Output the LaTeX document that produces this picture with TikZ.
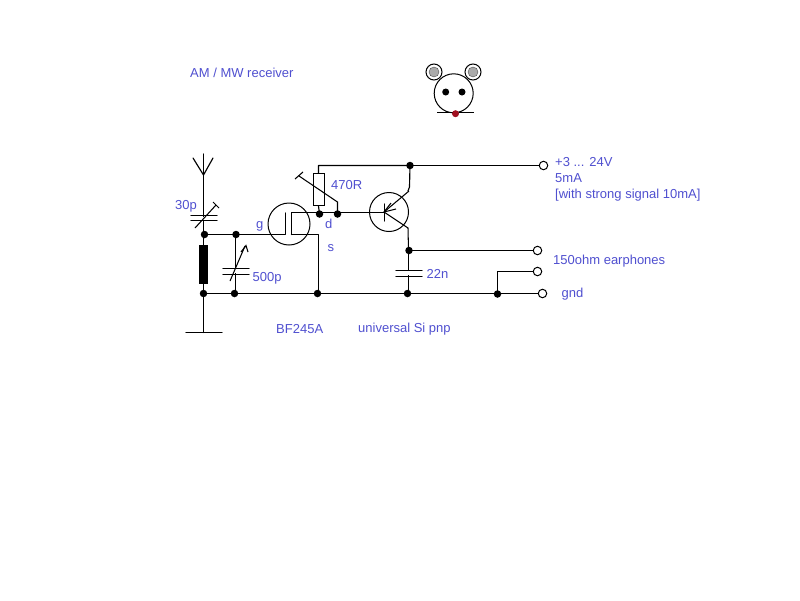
\documentclass[tikz,border=0pt]{standalone}
\usepackage{fontspec}
\setmainfont{Liberation Sans}
\definecolor{lbl}{RGB}{80,80,208}
\definecolor{nosered}{RGB}{160,16,32}
\definecolor{eargray}{RGB}{170,170,170}
\tikzset{
  wire/.style={draw=black,line width=1.15pt,line cap=round,line join=round},
  thin wire/.style={draw=black,line width=1.05pt},
  dot/.style={circle,fill=black,inner sep=0pt,minimum size=7.5pt},
  term/.style={circle,draw=black,fill=white,line width=1pt,inner sep=0pt,minimum size=8.5pt},
  txt/.style={anchor=base west,inner sep=0pt,text=lbl,font=\fontsize{13}{15}\selectfont},
  ring/.style={circle,draw=black,line width=1pt,fill=none,inner sep=0pt},
}
\begin{document}
\begin{tikzpicture}[x=1pt,y=-1pt]
\useasboundingbox (0,0) rectangle (800,600);
\fill[white] (0,0) rectangle (800,600);

% junctions
\node[dot] (jA) at (204.5,234.5) {};
\node[dot] (jB) at (236,234.5) {};
\node[dot] (jC) at (203.5,293.5) {};
\node[dot] (jD) at (234.5,293.5) {};
\node[dot] (jE) at (317.5,293.5) {};
\node[dot] (jF) at (407.5,293.5) {};
\node[dot] (jG) at (497.5,294) {};
\node[dot] (jH) at (410,165.5) {};
\node[dot] (jI) at (409,250.5) {};
\node[dot] (jJ) at (319.5,214) {};
\node[dot] (jK) at (337.5,214) {};

% terminals
\node[term] (tV) at (543.5,165.5) {};
\node[term] (tE) at (537.5,250.5) {};
\node[term] (tF) at (537.5,271.5) {};
\node[term] (tG) at (542.5,293.5) {};

% helper points
\coordinate (antTop) at (203.5,154);
\coordinate (antFork) at (203.5,175);
\coordinate (gnd) at (203.5,332.5);
\coordinate (gateIn) at (285.5,234.5);
\coordinate (gateTop) at (285.5,213);
\coordinate (chanBot) at (291.5,234.5);
\coordinate (chanTop) at (291.5,212.5);
\coordinate (srcCorner) at (318.5,234.5);
\coordinate (base) at (384,212.5);
\coordinate (eOut) at (408,191);
\coordinate (sp) at (497.5,271.5);

% wires
\draw[wire] (antTop) -- (antFork) -- (203.5,234.5) -- (jA.center);
\draw[wire] (antFork) -- (193,158);
\draw[wire] (antFork) -- (213,158);
\draw[wire] (203.5,234.5) -- (jC.center) -- (gnd);
\draw[wire] (186,332.5) -- (222,332.5);
\draw[wire] (jA.center) -- (jB.center) -- (gateIn) -- (gateTop);
\draw[wire] (235.5,234.5) -- (235.5,293.5);
\draw[wire] (jC.center) -- (tG);
\draw[wire] (chanBot) -- (chanTop) -- (base);
\draw[wire] (chanBot) -- (srcCorner) -- (318.5,293.5);
\draw[wire] (497.5,293.5) -- (sp) -- (tF);
\draw[wire] (jH.center) -- (tV);
\draw[wire] (jI.center) -- (tE);
\draw[wire] (408.5,293.5) -- (408.5,250.5);
\draw[wire] (318.5,173) -- (318.5,165.5) -- (jH.center) -- (409.5,187) -- (eOut);

% inductor
\node[fill=black,inner sep=0pt,minimum width=9pt,minimum height=39pt] (L1) at (203.5,264.5) {};

% 30p capacitor
\fill[white] (192,216.5) rectangle (216,219.5);
\draw[wire] (191,215.5) -- (217,215.5);
\draw[wire] (191,220.5) -- (217,220.5);
\draw[thin wire] (195,228) -- (216,205);
\draw[thin wire] (213,202) -- (219,208);

% 500p capacitor
\fill[white] (224,269) rectangle (248,273);
\draw[wire] (223,268.5) -- (249,268.5);
\draw[wire] (223,274.5) -- (249,274.5);
\draw[thin wire] (230,281) -- (245,246);
\draw[thin wire] (241,252) -- (246,245.5) -- (248,252);

% 22n capacitor
\fill[white] (397,271) rectangle (421,275);
\draw[wire] (396,270.5) -- (422,270.5);
\draw[wire] (396,276.5) -- (422,276.5);

% JFET
\node[ring,minimum size=42pt] (Q1) at (289,224) {};
% transistor
\node[ring,minimum size=39pt] (Q2) at (389,212) {};
\draw[wire] (384.5,204) -- (384.5,221);
\draw[thin wire] (384,212) -- (409,191);
\draw[thin wire] (384,212) -- (408,228) -- (408.5,250);
\draw[thin wire] (384,212) -- (396,209);
\draw[thin wire] (384,212) -- (391,203);

% resistor / pot
\node[draw=black,fill=white,line width=1pt,inner sep=0pt,minimum width=11pt,minimum height=32pt] (R1) at (318.5,189.5) {};
\draw[wire] (R1.south) -- (jJ.center);
\draw[thin wire] (299,176) -- (337.5,202) -- (jK.center);
\draw[thin wire] (295,179) -- (303,172);

% mouse
\node[circle,draw=black,fill=white,line width=1pt,inner sep=0pt,minimum size=39pt] (head) at (453.7,93.3) {};
\node[circle,draw=black,fill=white,line width=1pt,inner sep=0pt,minimum size=16pt] (earL) at (434,72) {};
\node[circle,draw=black,fill=white,line width=1pt,inner sep=0pt,minimum size=16pt] (earR) at (473,72) {};
\node[circle,draw=black!70,fill=eargray,inner sep=0pt,minimum size=10pt] (innerL) at (434,72) {};
\node[circle,draw=black!70,fill=eargray,inner sep=0pt,minimum size=10pt] (innerR) at (473,72) {};
\node[circle,fill=black,inner sep=0pt,minimum size=7pt] (eyeL) at (445.7,92) {};
\node[circle,fill=black,inner sep=0pt,minimum size=7pt] (eyeR) at (462,92) {};
\draw[thin wire] (437,112.5) -- (452,112.5);
\draw[thin wire] (459,112.5) -- (474,112.5);
\node[circle,fill=nosered,inner sep=0pt,minimum size=7pt] (nose) at (455.5,113.7) {};

% labels
\node[txt] (t1) at (190,77) {AM / MW receiver};
\node[txt] (t2) at (175,209) {30p};
\node[txt] (t3) at (256,228) {g};
\node[txt] (t4) at (252.5,281) {500p};
\node[txt] (t5) at (276,333) {BF245A};
\node[txt] (t6) at (358,332) {universal Si pnp};
\node[txt] (t7) at (331,189) {470R};
\node[txt] (t8) at (325,228) {d};
\node[txt] (t9) at (327.5,251) {s};
\node[txt] (t10) at (555,166) {+3 ... 24V};
\node[txt] (t11) at (555,182) {5mA};
\node[txt] (t12) at (555,198) {[with strong signal 10mA]};
\node[txt] (t13) at (553,264) {150ohm earphones};
\node[txt] (t14) at (426.5,278) {22n};
\node[txt] (t15) at (561.5,297) {gnd};
\end{tikzpicture}
\end{document}
